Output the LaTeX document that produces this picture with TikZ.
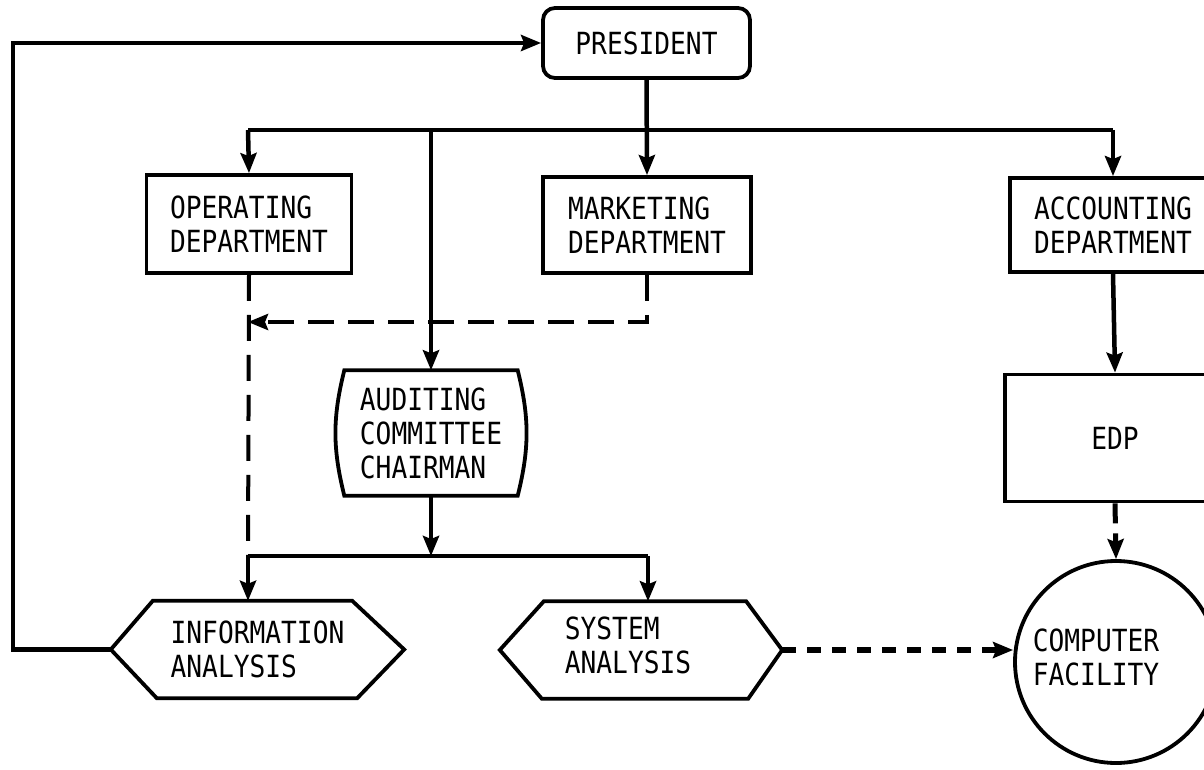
\documentclass[tikz,border=0pt]{standalone}
\usepackage{fontspec}
\setmonofont[FakeStretch=0.86]{DejaVu Sans Mono}
\usetikzlibrary{arrows.meta}
\begin{document}
\begin{tikzpicture}[x=1pt,y=-1pt,
  font=\ttfamily\fontsize{30.5}{34}\selectfont,
  box/.style={draw, line width=3.8pt, align=left, inner sep=0pt},
  ghost/.style={draw=none, align=left, inner sep=0pt},
  shapeline/.style={line width=3.8pt, line join=miter},
  tip/.style={-{Stealth[length=20pt,width=16pt,inset=3pt]}},
  conn/.style={line width=4.5pt, tip},
  line/.style={line width=4.5pt},
  dashA/.style={line width=4pt, dash pattern=on 26pt off 14pt},
  dashB/.style={line width=6.5pt, dash pattern=on 14pt off 11pt},
  dashC/.style={line width=5pt, dash pattern=on 20pt off 10pt}]
\clip (0,0) rectangle (1204,770);
\fill[white] (0,0) rectangle (1204,770);

% nodes
\node[box, rounded corners=12pt, minimum width=207pt, minimum height=70pt] (pres) at (646.5,43) {PRESIDENT};
\node[box, minimum width=205pt, minimum height=98pt] (op) at (249,224) {OPERATING\\DEPARTMENT};
\node[box, minimum width=208pt, minimum height=96pt] (mkt) at (647,225) {MARKETING\\DEPARTMENT};
\node[box, minimum width=206pt, minimum height=94pt] (acc) at (1113,225) {ACCOUNTING\\DEPARTMENT};
\node[ghost, minimum width=173pt, minimum height=125pt] (aud) at (431,433) {AUDITING\\COMMITTEE\\CHAIRMAN};
\draw[shapeline] (aud.north west) -- (aud.north east) to[bend left=14] (aud.south east) -- (aud.south west) to[bend left=14] cycle;
\node[box, minimum width=220pt, minimum height=127pt] (edp) at (1115,438) {EDP};
\node[ghost, minimum width=293pt, minimum height=97pt] (info) at (257.5,649.5) {INFORMATION\\ANALYSIS};
\draw[shapeline] ([xshift=42pt]info.north west) -- ([xshift=-52pt]info.north east) -- (info.east)
  -- ([xshift=-47pt]info.south east) -- ([xshift=46pt]info.south west) -- (info.west) -- cycle;
\node[ghost, minimum width=282pt, minimum height=97pt] (sys) at (641,650)
  {\begin{tabular}{@{}l@{\hspace{26pt}}}SYSTEM\\ANALYSIS\end{tabular}};
\draw[shapeline] ([xshift=44pt]sys.north west) -- ([xshift=-36pt]sys.north east) -- (sys.east)
  -- ([xshift=-34pt]sys.south east) -- ([xshift=42pt]sys.south west) -- (sys.west) -- cycle;
\node[box, circle, minimum size=202pt] (cf) at (1116,662)
  {\begin{tabular}{@{}l@{\hspace{40pt}}}COMPUTER\\FACILITY\end{tabular}};

% upper bus
\coordinate (busA) at (248,130);
\coordinate (busB) at (1113,130);
\draw[conn] (pres.south) -- (mkt.north);
\draw[line] (busA) -- (busB);
\draw[conn] (busA) -- (op.north);
\draw[conn] (busB) -- (acc.north);
\draw[conn] (busA -| aud.north) -- (aud.north);
\draw[conn] (acc.south) -- (edp.north);

% dashed reporting lines
\coordinate (dj) at (248,322);
\coordinate (lbA) at (248,556);
\coordinate (lbB) at (648,556);
\draw[dashA] (op.south) -- (lbA);
\draw[dashA, tip] (mkt.south) |- (dj);

% lower bus
\draw[conn] (aud.south) -- (aud.south |- lbA);
\draw[line] (lbA) -- (lbB);
\draw[conn] (lbA) -- (lbA |- info.north);
\draw[conn] (lbB) -- (lbB |- sys.north);

% feedback to president
\coordinate (fbx) at (13,300);
\draw[conn] (info.west) -| (fbx) |- (pres.west);

% to computer facility
\draw[dashB, tip] (sys.east) -- (sys.east -| cf.west);
\draw[dashC, tip] (edp.south) -- (cf.north);
\end{tikzpicture}
\end{document}
